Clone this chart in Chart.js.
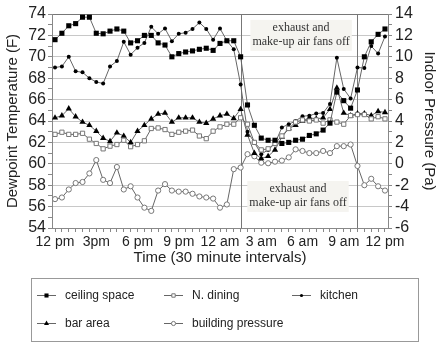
<!DOCTYPE html>
<html>
<head>
<meta charset="utf-8">
<script src="https://cdn.jsdelivr.net/npm/chart.js@4.4.0/dist/chart.umd.min.js"></script>
<style>
  html, body { margin: 0; padding: 0; background: #fff; }
</style>
</head>
<body>
<canvas id="myChart" width="442" height="347"></canvas>
<script>
// one reading every 30 minutes, 12 pm to 12 pm next day
var timeLabels = ['12 pm', '3pm', '6 pm', '9 pm', '12 am', '3 am', '6 am', '9 am', '12 pm'];

var ceilingSpace = [71.6, 72.2, 72.9, 73.1, 73.7, 73.7, 72.2, 72.15, 72.4, 72.6,
    72.4, 71.3, 71.5, 72.0, 72.0, 71.3, 71.1, 70.0, 70.3, 70.45,
    70.55, 70.7, 70.8, 70.6, 71.25, 71.5, 71.5, 70.0, 65.5, 63.6,
    62.4, 62.2, 62.2, 61.9, 62.0, 62.2, 62.3, 62.65, 62.8, 63.15,
    63.8, 66.7, 65.9, 65.2, 66.9, 70.0, 71.4, 72.1, 72.6];
var nDining = [62.75, 62.95, 62.75, 62.75, 62.85, 62.3, 61.9, 61.4, 61.65, 61.8,
    62.2, 61.6, 61.8, 62.15, 63.3, 63.35, 63.2, 62.75, 62.95, 63.05,
    63.15, 62.6, 62.35, 63.05, 63.45, 63.7, 63.7, 64.3, 63.7, 62.0,
    61.3, 61.4, 61.9, 62.6, 63.3, 63.9, 64.1, 64.0, 64.1, 63.8,
    64.1, 63.9, 63.7, 64.5, 64.6, 64.6, 64.2, 64.4, 64.2];
var kitchen = [69.0, 69.1, 70.0, 68.65, 68.55, 68.0, 67.65, 67.5, 69.1, 69.6,
    71.4, 70.2, 70.85, 71.3, 72.8, 72.15, 72.65, 71.45, 72.15, 72.25,
    72.6, 73.2, 72.6, 71.6, 72.65, 71.5, 70.7, 67.4, 63.0, 62.0,
    60.9, 61.3, 61.9, 63.4, 63.7, 64.0, 64.45, 64.5, 64.7, 64.75,
    65.6, 69.9, 67.0, 66.1, 69.0, 68.95, 71.0, 70.3, 71.9];
var barArea = [64.3, 64.5, 65.15, 64.4, 63.9, 63.6, 63.05, 62.4, 62.1, 62.9,
    62.6, 62.0, 63.05, 63.6, 64.2, 64.65, 64.75, 63.9, 64.3, 64.3,
    64.3, 63.9, 63.8, 64.2, 64.5, 64.65, 64.25, 65.1, 62.7, 61.0,
    60.5, 60.7, 61.3, 62.5, 63.3, 63.6, 64.0, 64.3, 64.2, 64.3,
    65.1, 67.1, 64.75, 64.5, 64.7, 64.7, 64.5, 64.9, 64.8];
var buildingPressure = [-3.3, -3.15, -2.4, -1.8, -1.7, -0.9, 0.35, -1.5, -1.8, -0.3,
    -2.4, -2.1, -3.15, -4.1, -4.4, -2.5, -1.9, -2.5, -2.6, -2.6,
    -2.8, -3.05, -3.15, -3.25, -4.1, -3.8, -0.5, -0.35, 0.9, 0.7,
    0.1, 0.05, 0.2, 0.3, 0.6, 1.35, 1.2, 1.0, 1.0, 1.2,
    1.0, 1.65, 1.65, 1.8, -0.2, -2.0, -1.4, -2.1, -2.5];

// fans were off between these two readings
var fansOffStart = 27;
var fansOffEnd = 44;
var fansOffNote = ['exhaust and', 'make-up air fans off'];

var ctx = document.getElementById('myChart');
var sansFont = "'Liberation Sans', Arial, sans-serif";
var lineGrey = '#666';

function toPoints(values) {
    return values.map(function (v, i) { return { x: i, y: v }; });
}

function everyUnit(min, max) {
    var out = [];
    for (var v = min; v <= max; v++) out.push({ value: v });
    return out;
}

var notesAndLines = {
    id: 'notesAndLines',
    beforeDatasetsDraw: function (chart) {
        var c = chart.ctx;
        var area = chart.chartArea;
        var xs = chart.scales.x;
        var ys = chart.scales.y;
        c.save();
        // vertical markers
        c.strokeStyle = '#777';
        c.lineWidth = 1;
        [fansOffStart, fansOffEnd].forEach(function (i) {
            var px = Math.round(xs.getPixelForValue(i)) + 0.5;
            c.beginPath();
            c.moveTo(px, area.top);
            c.lineTo(px, area.bottom);
            c.stroke();
        });
        // note boxes
        c.font = "12px 'Liberation Serif', 'Times New Roman', serif";
        c.textAlign = 'center';
        c.textBaseline = 'middle';
        var w = Math.max.apply(null, fansOffNote.map(function (t) { return c.measureText(t).width; })) + 4;
        var h = 31;
        [[35.8, 73.45], [35.35, 58.4]].forEach(function (pos) {
            var cx = xs.getPixelForValue(pos[0]);
            var top = ys.getPixelForValue(pos[1]);
            c.fillStyle = '#f5f4f0';
            c.fillRect(cx - w / 2, top, w, h);
            c.fillStyle = '#333';
            c.fillText(fansOffNote[0], cx, top + 8);
            c.fillText(fansOffNote[1], cx, top + 22);
        });
        c.restore();
    },
    afterDraw: function (chart) {
        // boxed legend, three columns
        var c = chart.ctx;
        c.save();
        c.strokeStyle = '#999';
        c.lineWidth = 1;
        c.strokeRect(31.5, 278.5, 387, 63);
        var cols = [37, 164, 292];
        var rows = [295, 323];
        c.font = '12px ' + sansFont;
        c.textBaseline = 'middle';
        c.textAlign = 'left';
        chart.data.datasets.forEach(function (ds, k) {
            var x = cols[k % 3];
            var y = rows[Math.floor(k / 3)];
            c.strokeStyle = lineGrey;
            c.lineWidth = 1;
            c.beginPath();
            c.moveTo(x, y + 0.5);
            c.lineTo(x + 19, y + 0.5);
            c.stroke();
            c.fillStyle = ds.pointBackgroundColor;
            c.strokeStyle = ds.pointBorderColor;
            c.lineWidth = ds.pointBorderWidth;
            Chart.helpers.drawPoint(c, {
                pointStyle: ds.pointStyle,
                radius: ds.pointRadius * 0.8,
                borderWidth: ds.pointBorderWidth,
                rotation: 0
            }, x + 9.5, y + 0.5);
            c.fillStyle = '#222';
            c.fillText(ds.label, x + 28, y + 1);
        });
        c.restore();
    }
};

var baseLine = { borderColor: lineGrey, borderWidth: 1, tension: 0, fill: false };

var myChart = new Chart(ctx, {
    type: 'line',
    data: {
        datasets: [
            Object.assign({}, baseLine, {
                label: 'ceiling space', data: toPoints(ceilingSpace), yAxisID: 'y',
                pointStyle: 'rect', pointRadius: 3.6,
                pointBackgroundColor: '#000', pointBorderColor: '#000', pointBorderWidth: 0
            }),
            Object.assign({}, baseLine, {
                label: 'N. dining', data: toPoints(nDining), yAxisID: 'y',
                pointStyle: 'rect', pointRadius: 3,
                pointBackgroundColor: '#fff', pointBorderColor: '#777', pointBorderWidth: 1
            }),
            Object.assign({}, baseLine, {
                label: 'kitchen', data: toPoints(kitchen), yAxisID: 'y',
                pointStyle: 'circle', pointRadius: 2,
                pointBackgroundColor: '#000', pointBorderColor: '#000', pointBorderWidth: 0
            }),
            Object.assign({}, baseLine, {
                label: 'bar area', data: toPoints(barArea), yAxisID: 'y',
                pointStyle: 'triangle', pointRadius: 3.6,
                pointBackgroundColor: '#000', pointBorderColor: '#000', pointBorderWidth: 0
            }),
            Object.assign({}, baseLine, {
                label: 'building pressure', data: toPoints(buildingPressure), yAxisID: 'y1',
                pointStyle: 'circle', pointRadius: 2.6,
                pointBackgroundColor: '#fff', pointBorderColor: '#777', pointBorderWidth: 1
            })
        ]
    },
    options: {
        responsive: false,
        animation: false,
        devicePixelRatio: 1,
        layout: { padding: { top: 14, left: 0, right: 0, bottom: 79 } },
        plugins: { legend: { display: false }, tooltip: { enabled: false } },
        scales: {
            x: {
                type: 'linear',
                min: -0.44,
                max: ceilingSpace.length - 1 + 0.44,
                afterBuildTicks: function (s) { s.ticks = everyUnit(0, ceilingSpace.length - 1); },
                afterFit: function (s) { s.height = 40; },
                ticks: {
                    autoSkip: false, maxRotation: 0, padding: 2, color: '#222',
                    font: { family: sansFont, size: 14 },
                    callback: function (v) { return v % 6 === 0 ? timeLabels[v / 6] : ''; }
                },
                grid: { drawOnChartArea: false, tickLength: 4, tickColor: '#888' },
                border: { color: '#888' },
                title: {
                    display: true, text: 'Time (30 minute intervals)', color: '#222',
                    font: { family: sansFont, size: 15 }, padding: { top: 4, bottom: 1 }
                }
            },
            y: {
                position: 'left',
                min: 54, max: 74,
                afterBuildTicks: function (s) { s.ticks = everyUnit(54, 74); },
                afterFit: function (s) { s.width = 52; },
                ticks: {
                    autoSkip: false, padding: 2, color: '#222', font: { family: sansFont, size: 16 },
                    callback: function (v) { return v % 2 === 0 ? v : ''; }
                },
                grid: {
                    tickLength: 4, tickColor: '#888',
                    color: function (c) {
                        if (c.tick.value === 74) return '#777';
                        return c.tick.value % 2 === 0 ? '#c8c8c8' : 'rgba(0,0,0,0)';
                    }
                },
                border: { color: '#888' },
                title: {
                    display: true, text: 'Dewpoint Temperature (F)', color: '#222',
                    font: { family: sansFont, size: 15 }
                }
            },
            y1: {
                position: 'right',
                min: -6, max: 14,
                afterBuildTicks: function (s) { s.ticks = everyUnit(-6, 14); },
                afterFit: function (s) { s.width = 54; },
                ticks: {
                    autoSkip: false, padding: 3, color: '#222', font: { family: sansFont, size: 16 },
                    callback: function (v) { return v % 2 === 0 ? v : ''; }
                },
                grid: { drawOnChartArea: false, tickLength: 4, tickColor: '#888' },
                border: { color: '#888' },
                title: {
                    display: true, text: 'Indoor Pressure (Pa)', color: '#222',
                    font: { family: sansFont, size: 15 }
                }
            }
        }
    },
    plugins: [notesAndLines]
});
</script>
</body>
</html>
